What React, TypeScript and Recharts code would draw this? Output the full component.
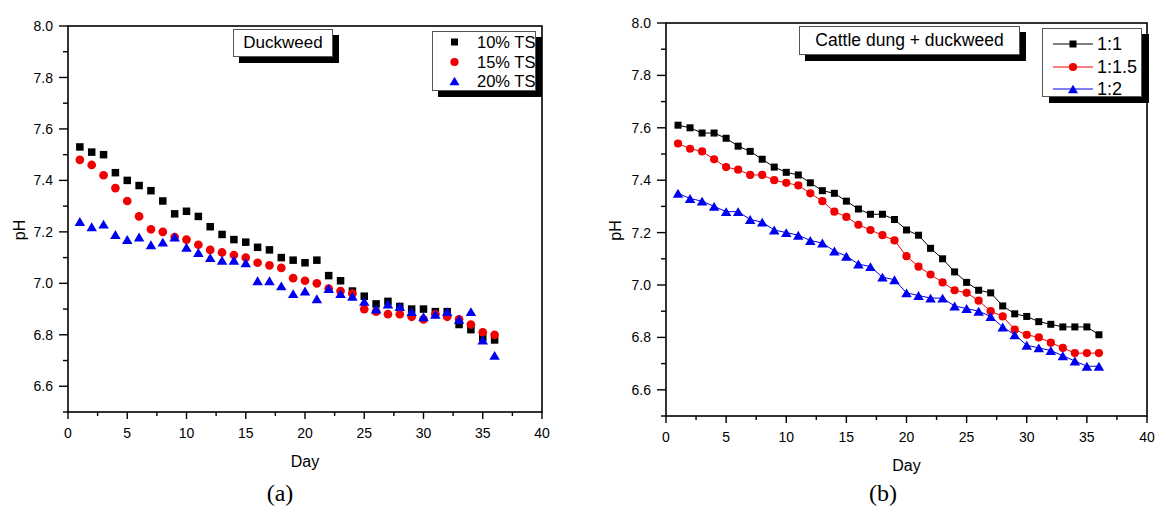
import React from 'react';
import { LineChart, Line, XAxis, YAxis, Legend } from 'recharts';

// ---------- data ----------
const days = [1, 2, 3, 4, 5, 6, 7, 8, 9, 10, 11, 12, 13, 14, 15, 16, 17, 18, 19, 20, 21, 22, 23, 24, 25, 26, 27, 28, 29, 30, 31, 32, 33, 34, 35, 36];

// (a) Duckweed
const ts10 = [7.53, 7.51, 7.50, 7.43, 7.40, 7.38, 7.36, 7.32, 7.27, 7.28, 7.26, 7.22, 7.19, 7.17, 7.16, 7.14, 7.13, 7.10, 7.09, 7.08, 7.09, 7.03, 7.01, 6.97, 6.95, 6.92, 6.93, 6.91, 6.90, 6.90, 6.89, 6.89, 6.84, 6.82, 6.79, 6.78];
const ts15 = [7.48, 7.46, 7.42, 7.37, 7.32, 7.26, 7.21, 7.20, 7.18, 7.17, 7.15, 7.13, 7.12, 7.11, 7.10, 7.08, 7.07, 7.06, 7.02, 7.01, 7.00, 6.98, 6.97, 6.96, 6.90, 6.89, 6.88, 6.88, 6.87, 6.86, 6.88, 6.87, 6.86, 6.84, 6.81, 6.80];
const ts20 = [7.24, 7.22, 7.23, 7.19, 7.17, 7.18, 7.15, 7.16, 7.18, 7.14, 7.12, 7.10, 7.09, 7.09, 7.08, 7.01, 7.01, 6.99, 6.96, 6.97, 6.94, 6.98, 6.96, 6.95, 6.93, 6.90, 6.92, 6.91, 6.89, 6.87, 6.88, 6.89, 6.86, 6.89, 6.78, 6.72];

// (b) Cattle dung + duckweed
const r11 = [7.61, 7.60, 7.58, 7.58, 7.56, 7.53, 7.51, 7.48, 7.45, 7.43, 7.42, 7.39, 7.36, 7.35, 7.32, 7.29, 7.27, 7.27, 7.25, 7.21, 7.19, 7.14, 7.10, 7.05, 7.01, 6.98, 6.97, 6.92, 6.89, 6.88, 6.86, 6.85, 6.84, 6.84, 6.84, 6.81];
const r115 = [7.54, 7.52, 7.51, 7.48, 7.45, 7.44, 7.42, 7.42, 7.40, 7.39, 7.38, 7.35, 7.32, 7.28, 7.26, 7.23, 7.21, 7.19, 7.17, 7.11, 7.07, 7.04, 7.01, 6.98, 6.97, 6.94, 6.90, 6.88, 6.83, 6.81, 6.80, 6.78, 6.76, 6.74, 6.74, 6.74];
const r12 = [7.35, 7.33, 7.32, 7.30, 7.28, 7.28, 7.25, 7.24, 7.21, 7.20, 7.19, 7.17, 7.16, 7.13, 7.11, 7.08, 7.07, 7.03, 7.02, 6.97, 6.96, 6.95, 6.95, 6.92, 6.91, 6.90, 6.88, 6.84, 6.81, 6.77, 6.76, 6.75, 6.73, 6.71, 6.69, 6.69];

const leftNames = ['10% TS', '15% TS', '20% TS'];
const rightNames = ['1:1', '1:1.5', '1:2'];
const xTicks = [0, 2.5, 5, 7.5, 10, 12.5, 15, 17.5, 20, 22.5, 25, 27.5, 30, 32.5, 35, 37.5, 40];
const yTicks = [6.5, 6.6, 6.7, 6.8, 6.9, 7.0, 7.1, 7.2, 7.3, 7.4, 7.5, 7.6, 7.7, 7.8, 7.9, 8.0];
const leftTitle = 'Duckweed';
const rightTitle = 'Cattle dung + duckweed';
const xTitle = 'Day';
const yTitle = 'pH';

const leftData = days.map((d, i) => ({ day: d, a: ts10[i], b: ts15[i], c: ts20[i] }));
const rightData = days.map((d, i) => ({ day: d, a: r11[i], b: r115[i], c: r12[i] }));

// ---------- styling ----------
const SANS = 'Liberation Sans, Arial, sans-serif';
const SERIF = 'Liberation Serif, Times New Roman, serif';
const COLORS = ['#000000', '#f00000', '#0000f0'];
const SHAPES = ['square', 'circle', 'triangle'];
const X_DOMAIN = [0, 40];
const Y_DOMAIN = [6.5, 8];

// panel layouts (page px)
const LEFT_BOX = { x0: 68, x1: 542, y0: 26, y1: 412 };
const RIGHT_BOX = { x0: 666, x1: 1147, y0: 23, y1: 416 };

function Marker({ shape, cx, cy, size, color }: any) {
  if (cx == null || cy == null) return null;
  if (shape === 'square') {
    return <rect x={cx - size / 2} y={cy - size / 2} width={size} height={size} fill={color} />;
  }
  if (shape === 'circle') {
    return <circle cx={cx} cy={cy} r={size / 2 + 0.6} fill={color} />;
  }
  const w = size + 2;
  const h = w * 0.85;
  return (
    <polygon
      points={`${cx},${cy - h / 2} ${cx - w / 2},${cy + h / 2} ${cx + w / 2},${cy + h / 2}`}
      fill={color}
    />
  );
}

const YTick = (props: any) => {
  const { x, y, payload } = props;
  const t = Math.round(payload.value * 10);
  if (t % 2 !== 0) return <g />;
  return (
    <text x={x - 13} y={y} dy="0.36em" textAnchor="end" fontSize={14} fontFamily={SANS} fill="#000">
      {(t / 10).toFixed(1)}
    </text>
  );
};

const XTick = (props: any) => {
  const { x, y, payload } = props;
  const v = payload.value;
  if (v % 5 !== 0) return <g />;
  return (
    <text x={x} y={y + 18.5} dy="0.36em" textAnchor="middle" fontSize={14} fontFamily={SANS} fill="#000">
      {v}
    </text>
  );
};

const makeYLabel = (dx: number) => (props: any) => {
  const vb = props.viewBox || {};
  const cx = vb.x + dx;
  const cy = vb.y + vb.height / 2 + 11;
  return (
    <text transform={`translate(${cx},${cy}) rotate(-90)`} textAnchor="middle" dy="0.36em" fontSize={16} fontFamily={SANS} fill="#000">
      {yTitle}
    </text>
  );
};

const makeXLabel = (dy: number) => (props: any) => {
  const vb = props.viewBox || {};
  return (
    <text x={vb.x + vb.width / 2} y={vb.y + dy} dy="0.36em" textAnchor="middle" fontSize={16} fontFamily={SANS} fill="#000">
      {xTitle}
    </text>
  );
};

const LeftLegend = () => (
  <div style={{ position: 'relative', width: 104, height: 60, background: '#fff', border: '1px solid #555', boxShadow: '6px 6px 0 #000', boxSizing: 'border-box', fontFamily: SANS }}>
    {leftNames.map((n, i) => (
      <div key={n} style={{ position: 'absolute', left: 0, top: i * 19.7, height: 20, width: 104 }}>
        <svg width={30} height={20} style={{ position: 'absolute', left: 6, top: 0 }}>
          <Marker shape={SHAPES[i]} cx={15.5} cy={10} size={i === 2 ? 8 : 7} color={COLORS[i]} />
        </svg>
        <span style={{ position: 'absolute', left: 44, top: 0, lineHeight: '20px', fontSize: 16.5, color: '#000', whiteSpace: 'nowrap' }}>{n}</span>
      </div>
    ))}
  </div>
);

const RightLegend = () => (
  <div style={{ position: 'relative', width: 100, height: 69, background: '#fff', border: '1px solid #555', boxShadow: '7px 6px 0 #000', boxSizing: 'border-box', fontFamily: SANS }}>
    {rightNames.map((n, i) => (
      <div key={n} style={{ position: 'absolute', left: 0, top: 4 + i * 22.5, height: 22, width: 100 }}>
        <svg width={44} height={22} style={{ position: 'absolute', left: 8, top: 0 }}>
          <path d="M2,11H42" stroke={COLORS[i]} strokeWidth={1} fill="none" />
          <Marker shape={SHAPES[i]} cx={22} cy={11} size={i === 2 ? 8 : 7} color={COLORS[i]} />
        </svg>
        <span style={{ position: 'absolute', left: 54, top: 0, lineHeight: '22px', fontSize: 18, color: '#000', whiteSpace: 'nowrap' }}>{n}</span>
      </div>
    ))}
  </div>
);

function Panel({ data, lines, margin, width, height, legend, legendPos, yLabelDx, xLabelDy }: any) {
  const keys = ['a', 'b', 'c'];
  return (
    <LineChart width={width} height={height} data={data} margin={margin}>
      <XAxis dataKey="day" type="number" domain={X_DOMAIN} ticks={xTicks} interval={0} tick={<XTick />} tickSize={0} tickLine={false} axisLine={false} height={30} label={{ content: makeXLabel(xLabelDy) }} />
      <YAxis type="number" domain={Y_DOMAIN} ticks={yTicks} interval={0} tick={<YTick />} tickSize={0} tickLine={false} axisLine={false} width={60} label={{ content: makeYLabel(yLabelDx) }} />
      {keys.map((k, i) => (
        <Line
          key={k}
          dataKey={k}
          name={(lines ? rightNames : leftNames)[i]}
          type="linear"
          stroke={lines ? COLORS[i] : 'none'}
          strokeWidth={1}
          isAnimationActive={false}
          activeDot={false}
          dot={(p: any) => (
            <Marker key={`m-${k}-${p.index}`} shape={SHAPES[i]} cx={p.cx} cy={p.cy} size={i === 2 ? 8.5 : lines ? 7 : 7.5} color={COLORS[i]} />
          )}
        />
      ))}
      {legend && (
        <Legend layout="vertical" align="center" verticalAlign="middle" content={legend}
          wrapperStyle={{ position: 'absolute', left: legendPos[0], top: legendPos[1], width: 'auto', height: 'auto', margin: 0 }} />
      )}
    </LineChart>
  );
}

// frame + tick marks, using the same linear domain->pixel mapping as the charts
function Frame({ box }: any) {
  const sx = (v: number) => box.x0 + ((v - X_DOMAIN[0]) / (X_DOMAIN[1] - X_DOMAIN[0])) * (box.x1 - box.x0);
  const sy = (v: number) => box.y1 - ((v - Y_DOMAIN[0]) / (Y_DOMAIN[1] - Y_DOMAIN[0])) * (box.y1 - box.y0);
  return (
    <g>
      <rect x={box.x0} y={box.y0} width={box.x1 - box.x0} height={box.y1 - box.y0} fill="none" stroke="#000" strokeWidth={1.6} />
      {xTicks.map((v) => (
        <rect key={`x${v}`} x={sx(v) - 0.7} y={box.y1} width={1.4} height={v % 5 === 0 ? 7 : 4} fill="#000" />
      ))}
      {yTicks.map((v) => {
        const major = Math.round(v * 10) % 2 === 0;
        const len = major ? 9 : 5;
        return <rect key={`y${v}`} x={box.x0 - len} y={sy(v) - 0.7} width={len} height={1.4} fill="#000" />;
      })}
    </g>
  );
}

const titleBox = (text: string, left: number, top: number, w: number, h: number, fs: number) => (
  <div style={{ position: 'absolute', left, top, width: w, height: h, background: '#fff', border: '1px solid #555', boxShadow: '6px 6px 0 #000', boxSizing: 'border-box', fontFamily: SANS, fontSize: fs, lineHeight: `${h - 2}px`, textAlign: 'center', color: '#000', whiteSpace: 'nowrap' }}>
    {text}
  </div>
);

export default function App() {
  return (
    <div style={{ position: 'absolute', left: 0, top: 0, width: 1156, height: 516, background: '#fff' }}>
      <div style={{ position: 'absolute', left: 0, top: 0 }}>
        <Panel data={leftData} lines={false} width={560} height={480}
          margin={{ top: 26, right: 18, bottom: 38, left: 8 }}
          legend={null} legendPos={[432, 31]} yLabelDx={11} xLabelDy={49.5} />
      </div>
      <div style={{ position: 'absolute', left: 600, top: 0 }}>
        <Panel data={rightData} lines={true} width={556} height={480}
          margin={{ top: 23, right: 9, bottom: 34, left: 6 }}
          legend={null} legendPos={[442, 28]} yLabelDx={9} xLabelDy={49} />
      </div>
      <svg width={1156} height={516} style={{ position: 'absolute', left: 0, top: 0, pointerEvents: 'none' }}>
        <Frame box={LEFT_BOX} />
        <Frame box={RIGHT_BOX} />
      </svg>
      <div style={{ position: 'absolute', left: 432, top: 31 }}>
        <LeftLegend />
      </div>
      <div style={{ position: 'absolute', left: 1042, top: 28 }}>
        <RightLegend />
      </div>
      {titleBox(leftTitle, 233, 29, 100, 28, 17)}
      {titleBox(rightTitle, 799, 26, 221, 29, 17.5)}
      <div style={{ position: 'absolute', left: 250, top: 478, width: 60, textAlign: 'center', fontFamily: SERIF, fontSize: 24, lineHeight: '30px', color: '#000' }}>(a)</div>
      <div style={{ position: 'absolute', left: 853, top: 478, width: 60, textAlign: 'center', fontFamily: SERIF, fontSize: 24, lineHeight: '30px', color: '#000' }}>(b)</div>
    </div>
  );
}
